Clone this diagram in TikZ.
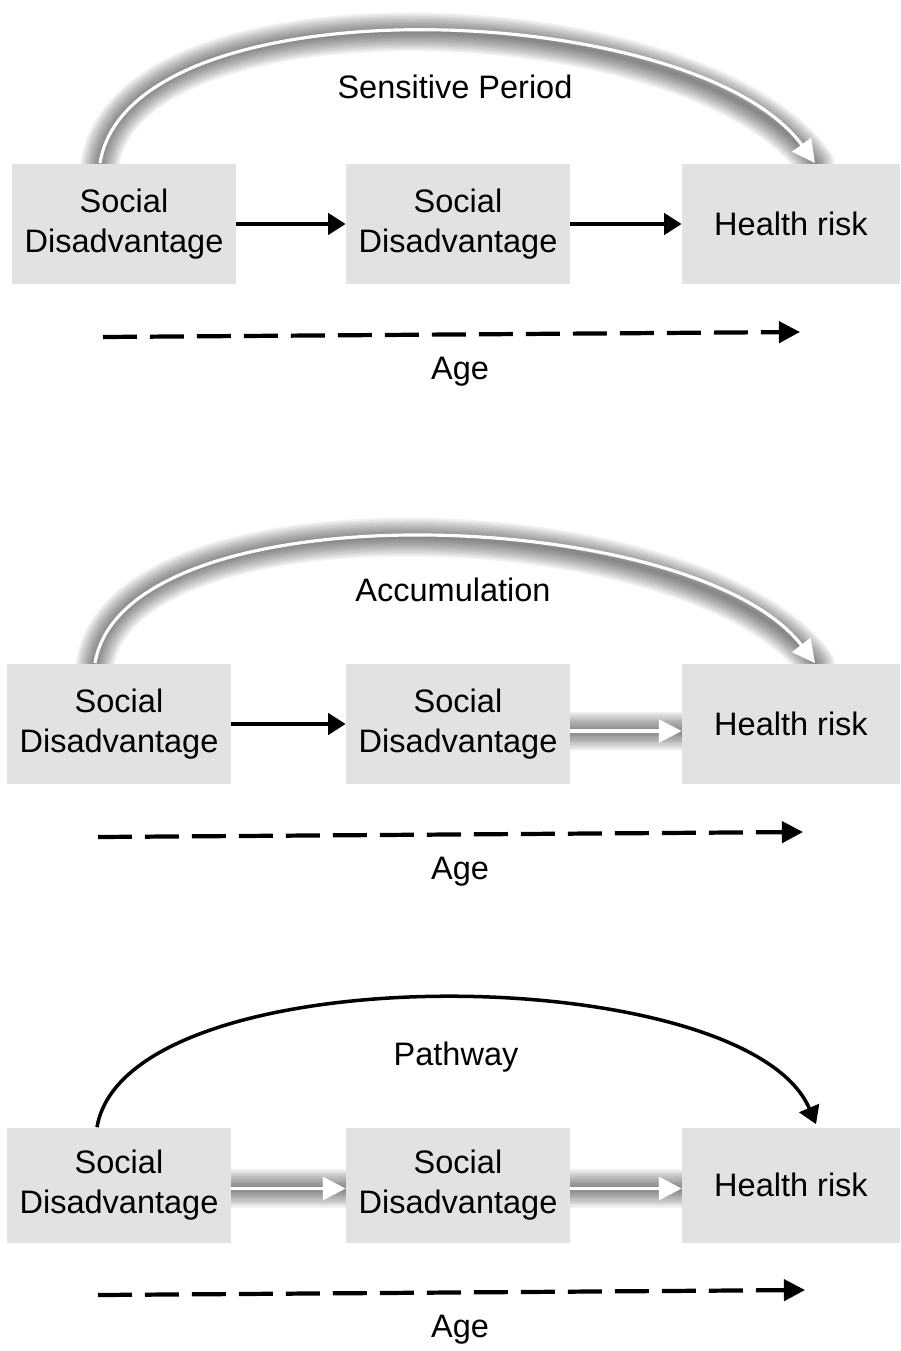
\documentclass[tikz,border=0pt]{standalone}
\usepackage{fontspec}
\setmainfont{Liberation Sans}
\usetikzlibrary{calc}
\usetikzlibrary{arrows.meta}
\usetikzlibrary{backgrounds}

\definecolor{boxgray}{RGB}{226,226,226}
\tikzset{
 box/.style={fill=boxgray, inner sep=0pt, align=center, minimum width=4.48cm, minimum height=2.42cm, font=\fontsize{18.5}{23}\selectfont},
 lbl/.style={font=\fontsize{18.5}{23}\selectfont},
 blackarrow/.style={line width=2.4pt, -{Triangle[length=10pt, width=12pt]}},
 agearrow/.style={line width=2.4pt, dash pattern=on 0.68cm off 0.26cm, -{Triangle[length=12pt, width=12pt]}},
 whitearrow/.style={white, line width=1.8pt, -{Triangle[length=13pt, width=13pt]}}
}
% white arrow with a soft grey glow round it
\newcommand{\glowline}[1]{%
 \foreach \w in {22,20,...,2}
  \draw[black, opacity=.055, line width=\w pt, line cap=round] #1;
 \draw[whitearrow] #1;
}

\begin{document}
\begin{tikzpicture}[x=0.02cm, y=-0.02cm]
\useasboundingbox (0,0) rectangle (901,1351);
\foreach \p/\y/\xa/\h in {1/224/124/2.42cm, 2/724/119/2.42cm, 3/1185/119/2.3cm} {
 \node[box, minimum height=\h] (a\p) at (\xa,\y) {Social\\Disadvantage};
 \node[box, minimum height=\h] (b\p) at (458,\y) {Social\\Disadvantage};
 \node[box, minimum height=\h, minimum width=4.36cm] (c\p) at (791,\y) {Health risk};
}
\foreach \p/\y/\xs/\xe in {1/335/103/800, 2/835/98/803, 3/1293/98/805} {
 \coordinate (s\p) at (\xs,\y+2);
 \coordinate (e\p) at (\xe,\y-3);
 \draw[agearrow] (s\p) -- (e\p);
 \node[lbl] (age\p) at (460,\y+37) {Age};
}
\node[lbl] (t1) at (455,87) {Sensitive Period};
\node[lbl] (t2) at (453,590) {Accumulation};
\node[lbl] (t3) at (456,1057) {Pathway};

\begin{scope}[on background layer]
\glowline{($(a1.north)+(-24,0)$) .. controls +(30,-185) and +(-120,-165) .. ($(c1.north)+(24,0)$)}
\draw[blackarrow] (a1.east) -- (b1.west);
\draw[blackarrow] (b1.east) -- (c1.west);

\glowline{($(a2.north)+(-24,0)$) .. controls +(30,-178) and +(-120,-158) .. ($(c2.north)+(24,0)$)}
\draw[blackarrow] (a2.east) -- (b2.west);
\glowline{([yshift=-4pt]b2.east) -- ([yshift=-4pt]c2.west)}

\draw[blackarrow, line width=2pt] ($(a3.north)+(-22,0)$) .. controls +(30,-175) and +(-70,-165) .. ($(c3.north)+(25,-3)$);
\glowline{([yshift=-2pt]a3.east) -- ([yshift=-2pt]b3.west)}
\glowline{([yshift=-2pt]b3.east) -- ([yshift=-2pt]c3.west)}
\end{scope}
\end{tikzpicture}
\end{document}
